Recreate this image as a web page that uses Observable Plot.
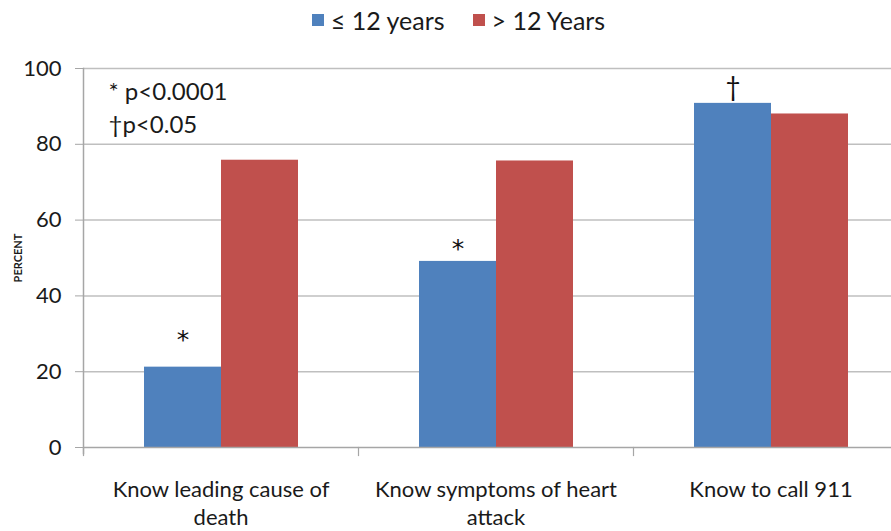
<!DOCTYPE html>
<html><head><meta charset="utf-8">
<script src="https://cdn.jsdelivr.net/npm/d3@7"></script>
<script src="https://cdn.jsdelivr.net/npm/@observablehq/plot@0.6"></script>
<style>
body{margin:0;background:#fff;font-family:Lato,"Open Sans",sans-serif;}
#legend{height:40px;display:flex;justify-content:center;align-items:center;gap:28px;padding-left:26px;font-size:25px;color:#1a1a1a;}
#legend span.item{display:flex;align-items:center;}
.sw{display:inline-block;width:12px;height:12px;margin-right:7px;}
</style></head><body>
<div id="legend"></div><div id="chart"></div>
<script>
const categories = ["Know leading cause of\ndeath", "Know symptoms of heart\nattack", "Know to call 911"];
const series = ["≤ 12 years", "> 12 Years"];
const lowEdu = [21.2, 49.1, 90.8];
const highEdu = [75.8, 75.6, 88.0];
const colors = ["#4F81BD", "#C0504D"];
const yTicks = [0, 20, 40, 60, 80, 100];
const markers = ["*", "*", "†"];
const notes = "* p<0.0001\n†p<0.05";

const data = [];
categories.forEach((c, i) => {
  data.push({category: c, series: series[0], value: lowEdu[i], marker: markers[i]});
  data.push({category: c, series: series[1], value: highEdu[i]});
});
const markerRows = data.filter(d => d.marker);

const legend = document.getElementById("legend");
series.forEach((s, i) => {
  const it = document.createElement("span");
  it.className = "item";
  const sw = document.createElement("span");
  sw.className = "sw";
  sw.style.background = colors[i];
  it.appendChild(sw);
  it.appendChild(document.createTextNode(s));
  legend.appendChild(it);
});

const W = 891, H = 491, mt = 28, mb = 84, ml = 83;
const frameH = H - mt - mb;
const gray = "#A6A6A6";

const chart = Plot.plot({
  width: W, height: H,
  marginTop: mt, marginBottom: mb, marginLeft: ml, marginRight: 0,
  style: {fontFamily: "Lato, 'Open Sans', sans-serif", color: "#1a1a1a", background: "#fff"},
  fx: {domain: categories, range: [ml, 908], padding: 0},
  x: {domain: series, paddingInner: 0, paddingOuter: 0.78, axis: null},
  y: {domain: [0, 100], axis: null},
  color: {domain: series, range: colors},
  marks: [
    Plot.ruleY(yTicks.filter(t => t > 0), {stroke: "#BFBFBF", strokeWidth: 1.5}),
    Plot.barY(data, {fx: "category", x: "series", y: "value", fill: "series"}),
    Plot.ruleY([0], {stroke: gray, strokeWidth: 1.5}),
    Plot.frame({anchor: "left", stroke: gray, strokeWidth: 1.2, insetTop: frameH, insetBottom: -8}),
    Plot.frame({anchor: "left", facetAnchor: "left", stroke: gray, strokeWidth: 1.5, insetBottom: -6}),
    Plot.axisY({ticks: yTicks, tickSize: 8, tickPadding: 14, fontSize: 22, stroke: gray, label: null}),
    Plot.axisFx({anchor: "bottom", tickSize: 0, tickPadding: 30, fontSize: 22, lineHeight: 1.25, label: null}),
    Plot.text(markerRows.slice(0, 1), {fx: "category", x: "series", y: "value", text: "marker", dy: -19, lineAnchor: "bottom", fontSize: 25, fontFamily: "DejaVu Sans", fill: "#111"}),
    Plot.text(markerRows.slice(1, 2), {fx: "category", x: "series", y: "value", text: "marker", dy: -4, lineAnchor: "bottom", fontSize: 25, fontFamily: "DejaVu Sans", fill: "#111"}),
    Plot.text(markerRows.slice(2), {fx: "category", x: "series", y: "value", text: "marker", dy: -7, lineAnchor: "bottom", fontSize: 26, fill: "#111"}),
    Plot.text([notes], {fx: [categories[0]], frameAnchor: "top-left", dx: 25, dy: 8, lineAnchor: "top", fontSize: 24, lineHeight: 1.38, fill: "#1a1a1a"}),
    Plot.text(["PERCENT"], {fx: [categories[0]], frameAnchor: "left", textAnchor: "middle", rotate: -90, dx: -65, fontWeight: "bold", fontSize: 11, fill: "#1a1a1a"})
  ]
});
document.getElementById("chart").appendChild(chart);
</script>
</body></html>
